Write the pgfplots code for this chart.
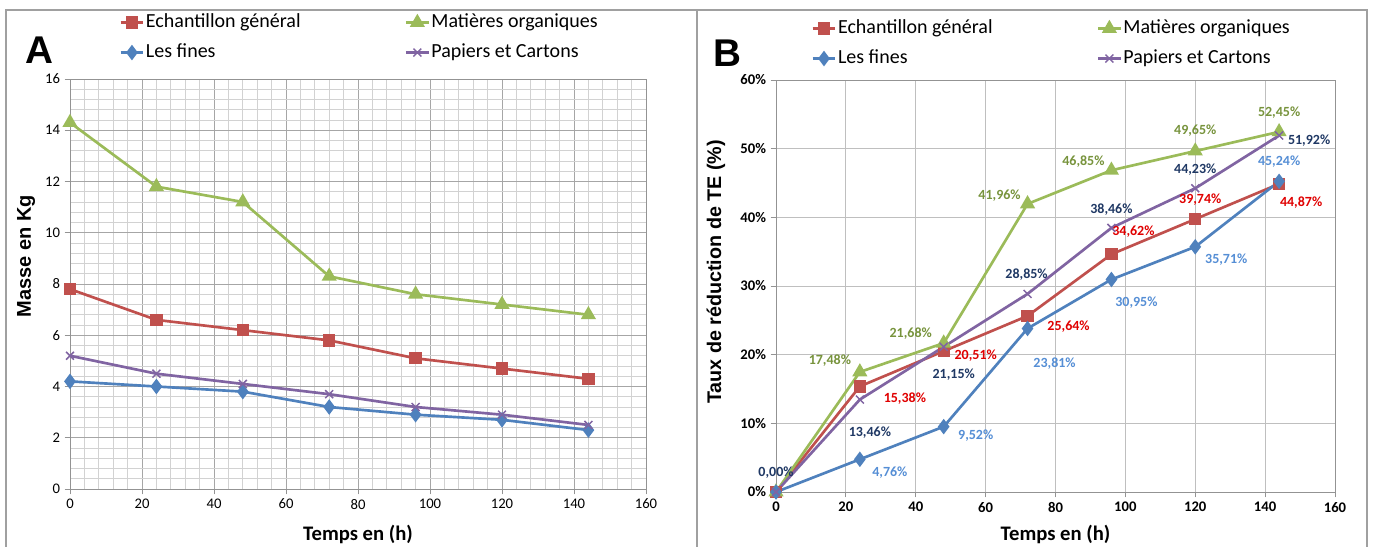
\documentclass[border=0pt]{standalone}
\usepackage{pgfplots}
\pgfplotsset{compat=1.18}
\usepackage{fontspec}
\setmainfont{Carlito}
\newfontfamily\arialf{Liberation Sans}
\definecolor{cR}{HTML}{C0504D}
\definecolor{cG}{HTML}{9BBB59}
\definecolor{cB}{HTML}{4F81BD}
\definecolor{cP}{HTML}{8064A2}
\definecolor{lR}{HTML}{E00000}
\definecolor{lG}{HTML}{77933C}
\definecolor{lB}{HTML}{558ED5}
\definecolor{lP}{HTML}{1F3864}
\definecolor{frameC}{HTML}{A0A0A0}

\pgfplotsset{
  common/.style={
    scale only axis,
    xmin=0, xmax=160,
    xtick={0,20,...,160},
    axis line style={draw=gray!85},
    tick style={draw=gray!85, line width=0.6pt},
    tick align=outside,
    xtick pos=left, ytick pos=left,
    major tick length=4pt,
    minor tick length=0pt,
    /pgf/number format/assume math mode=true,
    legend columns=2,
    legend cell align=left,
    legend style={draw=none, fill=none, inner sep=0pt, anchor=north west,
      font=\fontsize{15}{18}\selectfont,
      nodes={inner sep=1pt, text height=11pt, text depth=3.5pt},
      row sep=6pt,
      /tikz/every even column/.append style={column sep=77pt}},
    clip=false,
  },
  sR/.style={color=cR, line width=2pt, mark=square*, mark size=3.6pt, mark options={solid, fill=cR}},
  sG/.style={color=cG, line width=2pt, mark=triangle*, mark size=4.6pt, mark options={solid, fill=cG}},
  sB/.style={color=cB, line width=2pt, mark=diamond*, mark size=4.2pt, mark options={solid, fill=cB}},
  sP/.style={color=cP, line width=2pt, mark=x, mark size=4.2pt, mark options={solid, line width=1.1pt}},
  lab/.style={
    point meta=y,
    visualization depends on={value \thisrow{dx}\as\mydx},
    visualization depends on={value \thisrow{dy}\as\mydy},
    visualization depends on={value \thisrow{s}\as\myshow},
    nodes near coords={\ifnum\myshow=1 \pgfmathprintnumber[fixed,fixed zerofill,precision=2,use comma]{\pgfplotspointmeta}\%\fi},
    every node near coord/.append style={anchor=center, xshift=\mydx pt, yshift=\mydy pt, text=#1, font=\bfseries\fontsize{10.5}{12}\selectfont, inner sep=0pt},
  },
}

\begin{document}
\begin{tikzpicture}
\useasboundingbox (0,0) rectangle (1029.75pt,409.5pt);
\draw[frameC, line width=1.1pt] (4.5pt,-2pt) -- (4.5pt,402pt) -- (1025.25pt,402pt) -- (1025.25pt,-2pt);
\draw[frameC, line width=1.1pt] (522.75pt,-2pt) -- (522.75pt,402pt);
\node[font=\arialf\bfseries\fontsize{29}{30}\selectfont] at (29.6pt,371.6pt) {A};
\node[font=\arialf\bfseries\fontsize{29}{30}\selectfont] at (545.6pt,369.4pt) {B};

\begin{axis}[common, at={(52.5pt,42.75pt)}, anchor=south west, width=432pt, height=307.5pt,
  ymin=0, ymax=16, ytick={0,2,...,16},
  minor x tick num=4, minor y tick num=4,
  grid=both,
  major grid style={draw=gray!70, line width=0.6pt},
  minor grid style={draw=gray!35, line width=0.5pt},
  tick label style={font=\fontsize{11}{13}\selectfont},
  xlabel={Temps en (h)}, ylabel={Masse en Kg},
  xlabel style={at={(rel axis cs:0.5,-0.1098)}, anchor=center, font=\bfseries\fontsize{15.5}{18}\selectfont},
  ylabel style={at={(rel axis cs:-0.0764,0.568)}, anchor=center, font=\arialf\bfseries\fontsize{15}{18}\selectfont},
  legend style={at={(0.085,1.1651)}},
]
\addplot[sR] coordinates {(0,7.8) (24,6.6) (48,6.2) (72,5.8) (96,5.1) (120,4.7) (144,4.3)};
\addlegendentry{Echantillon général}
\addplot[sG] coordinates {(0,14.3) (24,11.8) (48,11.2) (72,8.3) (96,7.6) (120,7.2) (144,6.8)};
\addlegendentry{Matières organiques}
\addplot[sB] coordinates {(0,4.2) (24,4.0) (48,3.8) (72,3.2) (96,2.9) (120,2.7) (144,2.3)};
\addlegendentry{Les fines}
\addplot[sP] coordinates {(0,5.2) (24,4.5) (48,4.1) (72,3.7) (96,3.2) (120,2.9) (144,2.5)};
\addlegendentry{Papiers et Cartons}
\end{axis}

\begin{axis}[common, at={(582pt,40.5pt)}, anchor=south west, width=419.25pt, height=309pt,
  ymin=0, ymax=60, ytick={0,10,...,60}, yticklabels={0\%,10\%,20\%,30\%,40\%,50\%,60\%},
  grid=major, major grid style={draw=gray!50, line width=0.6pt},
  tick label style={font=\bfseries\fontsize{11}{13}\selectfont},
  xlabel={Temps en (h)}, ylabel={Taux de réduction de TE (\%)},
  xlabel style={at={(rel axis cs:0.5,-0.1026)}, anchor=center, font=\bfseries\fontsize{15.5}{18}\selectfont},
  ylabel style={at={(rel axis cs:-0.1073,0.534)}, anchor=center, font=\arialf\bfseries\fontsize{14.8}{18}\selectfont},
  legend style={at={(0.0626,1.1522)}},
]
\addplot[sR, lab=lR] table[x=x,y=y] {
x y dx dy s
0 0 0 0 0
24 15.38 33.75 -9 1
48 20.51 24 -3 1
72 25.64 30.75 -8.25 1
96 34.62 16.5 17.25 1
120 39.74 3.75 14.25 1
144 44.87 16.5 -14.25 1
};
\addlegendentry{Echantillon général}
\addplot[sG, lab=lG] table[x=x,y=y] {
x y dx dy s
0 0 0 0 0
24 17.48 -22.5 8.25 1
48 21.68 -24.75 7.5 1
72 41.96 -21 6 1
96 46.85 -21 6.75 1
120 49.65 0 15 1
144 52.45 0 14.25 1
};
\addlegendentry{Matières organiques}
\addplot[sB, lab=lB] table[x=x,y=y] {
x y dx dy s
0 0 0 0 0
24 4.76 22.5 -9.75 1
48 9.52 24 -6.75 1
72 23.81 20.25 -26.25 1
96 30.95 18.75 -17.25 1
120 35.71 23.25 -9.75 1
144 45.24 0 15 1
};
\addlegendentry{Les fines}
\addplot[sP, lab=lP] table[x=x,y=y] {
x y dx dy s
0 0 0 14.25 1
24 13.46 7.5 -24.75 1
48 21.15 7.5 -21 1
72 28.85 -0.75 14.25 1
96 38.46 0 13.5 1
120 44.23 0 14.25 1
144 51.92 22.5 -3.75 1
};
\addlegendentry{Papiers et Cartons}
\end{axis}
\end{tikzpicture}
\end{document}
